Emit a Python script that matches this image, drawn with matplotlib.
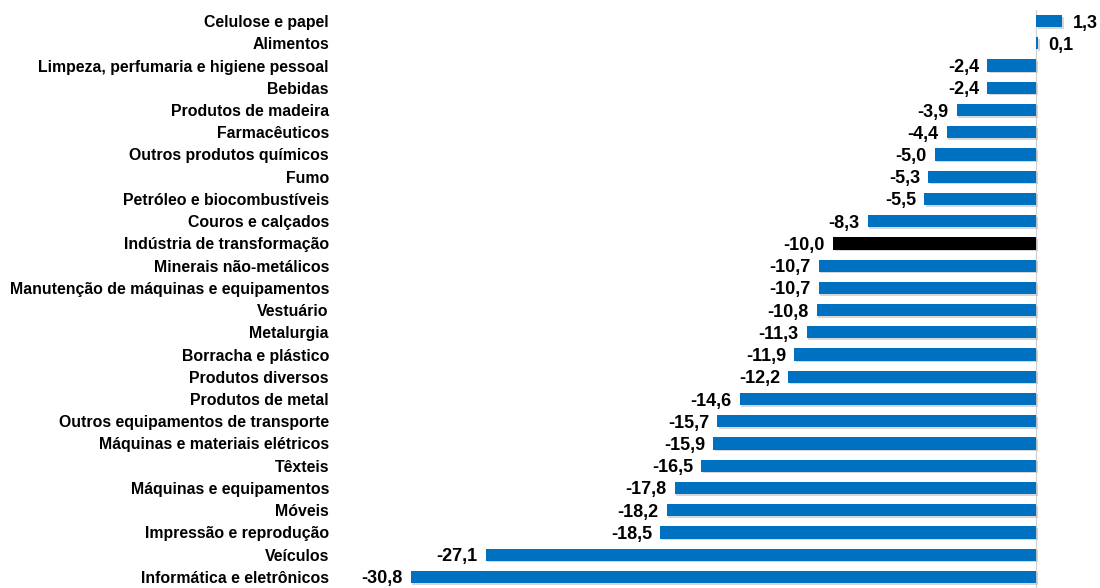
import matplotlib
matplotlib.use("Agg")
import matplotlib.pyplot as plt

# categorias de cima para baixo
categories = [
    "Celulose e papel", "Alimentos", "Limpeza, perfumaria e higiene pessoal",
    "Bebidas", "Produtos de madeira", "Farmacêuticos", "Outros produtos químicos",
    "Fumo", "Petróleo e biocombustíveis", "Couros e calçados",
    "Indústria de transformação", "Minerais não-metálicos",
    "Manutenção de máquinas e equipamentos", "Vestuário", "Metalurgia",
    "Borracha e plástico", "Produtos diversos", "Produtos de metal",
    "Outros equipamentos de transporte", "Máquinas e materiais elétricos",
    "Têxteis", "Máquinas e equipamentos", "Móveis", "Impressão e reprodução",
    "Veículos", "Informática e eletrônicos",
]
values = [1.3, 0.1, -2.4, -2.4, -3.9, -4.4, -5.0, -5.3, -5.5, -8.3, -10.0,
          -10.7, -10.7, -10.8, -11.3, -11.9, -12.2, -14.6, -15.7, -15.9,
          -16.5, -17.8, -18.2, -18.5, -27.1, -30.8]
highlight = "Indústria de transformação"

plt.rcParams['font.family'] = ['Liberation Sans', 'DejaVu Sans']

fig = plt.figure(figsize=(11, 5.88), dpi=100)
ax = fig.add_axes([340 / 1100, 0.0, 760 / 1100, 1 - 10 / 588])

ypos = list(range(len(categories)))
colors = ["black" if c == highlight else "#0070C0" for c in categories]

# sombra leve
ax.barh([y + 0.07 for y in ypos], values, height=0.55, color="#b0b0b0",
        alpha=0.5, left=0.08, zorder=1)
ax.barh(ypos, values, height=0.55, color=colors, zorder=2)

ax.axvline(0, color="#d0d0d0", lw=0.8, zorder=0)

for y, v in zip(ypos, values):
    txt = ("%.1f" % v).replace(".", ",")
    if v < 0:
        ax.text(v - 0.4, y, txt, ha="right", va="center_baseline", fontsize=13,
                fontweight="bold")
    else:
        ax.text(v + 0.5, y, txt, ha="left", va="center_baseline", fontsize=13,
                fontweight="bold")

ax.set_yticks(ypos)
ax.set_yticklabels(categories, fontsize=11.4, fontweight="bold")
ax.tick_params(axis="y", length=0, pad=8)
ax.set_xticks([])
ax.set_ylim(len(categories) - 0.5, -0.5)
ax.set_xlim(-(1036 - 340) / 20.3, (1100 - 1036) / 20.3)
for s in ax.spines.values():
    s.set_visible(False)

fig.savefig("out.png", dpi=100)
